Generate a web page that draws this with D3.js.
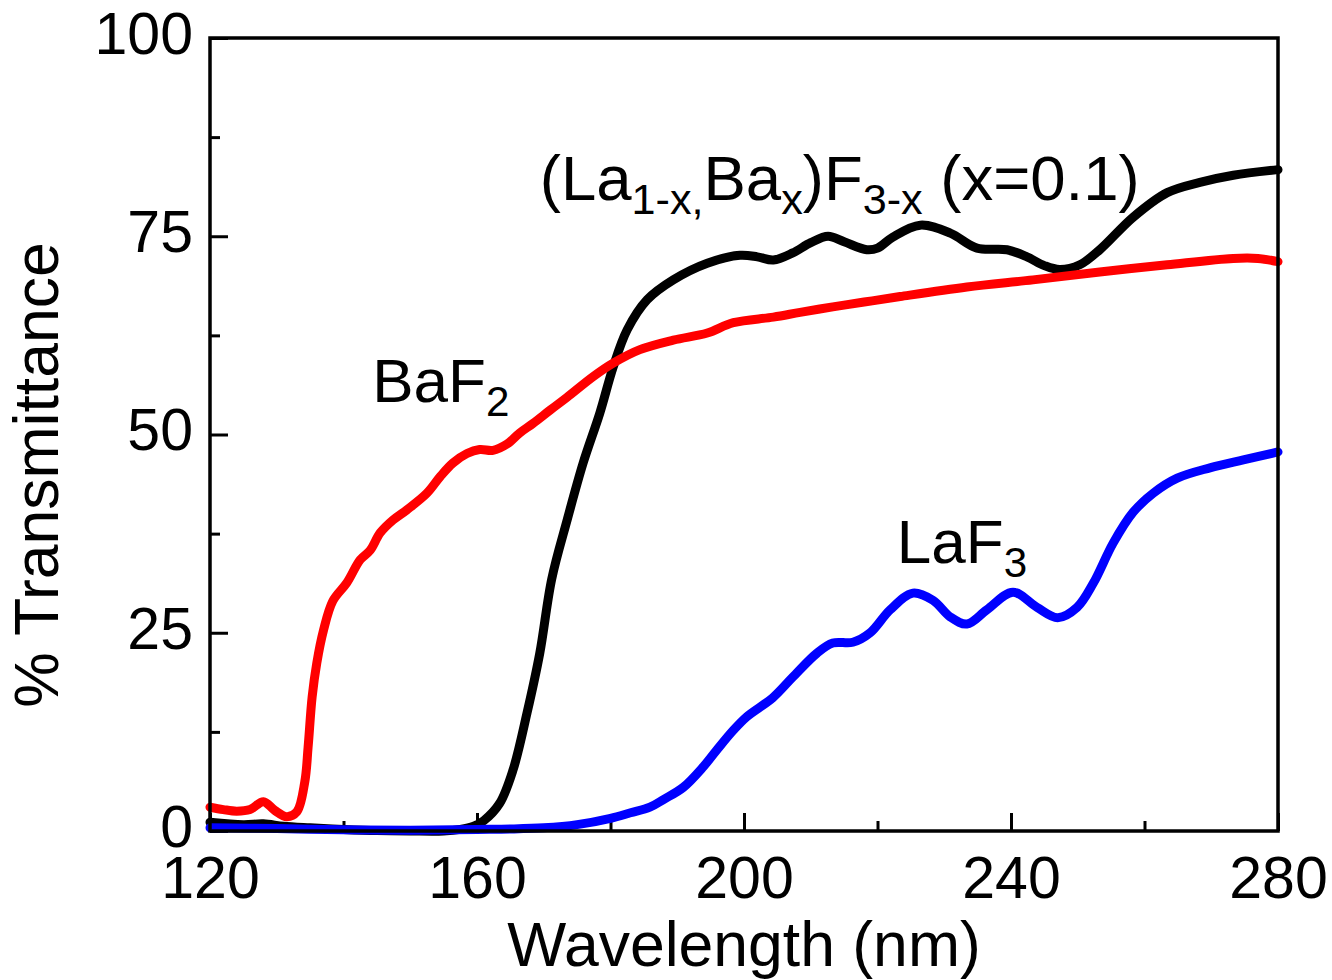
<!DOCTYPE html>
<html lang="en">
<head>
    <meta charset="UTF-8">
    <title>Transmittance</title>
    <style type="text/css">
        body { margin: 0; background: #fff; }
        svg text { font-family: "Liberation Sans", Arial, sans-serif; fill: #000; }
        .curve { fill: none; stroke-width: 9; stroke-linejoin: round; stroke-linecap: round; }
        .tick line { stroke: #000; stroke-width: 3; }
        .tick text { font-size: 59px; }
    </style>
</head>
<body>
    <svg></svg>

    <script src="https://d3js.org/d3.v7.min.js"></script>
    <script>
        // values (wavelength nm, % transmittance)
        var baf2Wl = [120, 122, 124, 126, 128, 129.7, 131.5, 133, 134.2, 134.7, 135.3, 136, 137, 138.4, 140.5, 142.5, 144, 145.5, 147.4, 149.5, 152.5, 154.5, 156.4, 158.5, 160.4, 162.4, 164.5, 166.4, 168.4, 171, 173.5, 177.4, 180.4, 184.4, 189.4, 194.5, 198.4, 204.4, 208.4, 213.3, 218, 223.4, 233.4, 243.3, 253.3, 263.4, 273.3, 277, 280];
        var baf2T  = [3.0, 2.7, 2.5, 2.7, 3.7, 2.6, 1.8, 2.4, 6.2, 10.6, 16.9, 21.2, 25.3, 29, 31.3, 34.2, 35.4, 37.6, 39.2, 40.5, 42.6, 44.7, 46.4, 47.6, 48.1, 48.0, 48.8, 50.2, 51.4, 53.1, 54.7, 57.3, 59.0, 60.7, 61.9, 62.8, 64.1, 64.8, 65.4, 66.1, 66.7, 67.4, 68.6, 69.5, 70.5, 71.4, 72.2, 72.2, 71.8];

        var mixWl = [120, 125, 128, 131, 135, 140, 145, 150, 155, 157.5, 159.5, 161, 163.4, 165.4, 167.5, 169.4, 171.2, 173.5, 175.9, 178.4, 180.4, 182.5, 185.5, 189.4, 194.5, 199.4, 202, 204.4, 207.3, 210, 212.6, 215, 218.4, 220, 222.3, 226.4, 230.9, 234.9, 239.4, 242.4, 245, 247.3, 250.3, 253.3, 258.3, 263.4, 268.3, 273.3, 280];
        var mixT  = [1.1, 0.8, 0.9, 0.6, 0.4, 0.2, 0.05, 0, 0, 0.2, 0.6, 1.3, 3.5, 7.7, 14.9, 22.4, 31.8, 39.2, 46.4, 52.7, 58.5, 63.2, 67, 69.5, 71.6, 72.6, 72.4, 72.0, 72.9, 74.2, 75.0, 74.3, 73.3, 73.5, 74.9, 76.4, 75.4, 73.5, 73.3, 72.4, 71.3, 70.8, 71.4, 73.3, 77.4, 80.5, 81.8, 82.7, 83.4];

        var laf3Wl = [120, 130, 140, 150, 160, 165, 170, 175, 180, 183, 185.9, 188, 190.9, 193.9, 196, 198.4, 200.4, 204.3, 207.3, 210.9, 213.3, 216.3, 218.9, 221.9, 225.3, 228.3, 230.9, 233.4, 236.4, 240.3, 243.9, 247, 249.9, 252.3, 255.3, 258.3, 261.3, 264.9, 269.8, 274.8, 280];
        var laf3T  = [0.4, 0.3, 0.15, 0.1, 0.2, 0.25, 0.4, 0.8, 1.6, 2.3, 3.0, 4.0, 5.5, 8.1, 10.3, 12.7, 14.4, 16.8, 19.4, 22.4, 23.7, 23.8, 25, 27.9, 30, 29.1, 27, 26.1, 27.9, 30.1, 28.2, 26.9, 28.2, 31.2, 36.3, 40.2, 42.6, 44.5, 45.8, 46.8, 47.8];

        var xMajor = [120, 160, 200, 240, 280];
        var xMinor = [140, 180, 220, 260];
        var yMajor = [0, 25, 50, 75, 100];
        var yMinor = [12.5, 37.5, 62.5, 87.5];

        var svgWidth = 1332
        var svgHeight = 980
        var margin = {left: 210, right: 54, top: 38, bottom: 149}

        var svg = d3.select('svg')
            .attr("width", svgWidth)
            .attr("height", svgHeight)

        var x = d3.scaleLinear().domain([120, 280]).range([margin.left, svgWidth - margin.right])
        var y = d3.scaleLinear().domain([0, 100]).range([svgHeight - margin.bottom, margin.top])

        // ticks point inward, majors longer than minors
        svg.append("g")
            .attr("transform", "translate(0," + y(0) + ")")
            .call(d3.axisBottom(x).tickValues(xMajor).tickSize(-18).tickPadding(25).tickFormat(d3.format("d")))
            .call(g => g.select(".domain").remove())
        svg.append("g")
            .attr("transform", "translate(0," + y(0) + ")")
            .call(d3.axisBottom(x).tickValues(xMinor).tickSize(-10).tickFormat(""))
            .call(g => g.select(".domain").remove())
        svg.append("g")
            .attr("class", "yaxis")
            .attr("transform", "translate(" + x(120) + ",0)")
            .call(d3.axisLeft(y).tickValues(yMajor).tickSize(-18).tickPadding(17).tickFormat(d3.format("d")))
            .call(g => g.select(".domain").remove())
        svg.append("g")
            .attr("transform", "translate(" + x(120) + ",0)")
            .call(d3.axisLeft(y).tickValues(yMinor).tickSize(-10).tickFormat(""))
            .call(g => g.select(".domain").remove())

        svg.selectAll(".tick text").attr("font-family", null)
        svg.selectAll(".yaxis .tick text").attr("dy", "0.26em")

        var line = d3.line()
            .x(function(d){ return x(d[0]) })
            .y(function(d){ return y(d[1]) })
            .curve(d3.curveCatmullRom.alpha(0.5))

        var series = [
            {wl: mixWl, t: mixT, color: "#000000"},
            {wl: baf2Wl, t: baf2T, color: "#ff0000"},
            {wl: laf3Wl, t: laf3T, color: "#0000ff"}
        ]

        series.forEach(function(s){
            svg.append("path")
                .datum(d3.zip(s.wl, s.t))
                .attr("class", "curve")
                .attr("stroke", s.color)
                .attr("d", line)
        })

        // frame
        svg.append("rect")
            .attr("x", x(120))
            .attr("y", y(100))
            .attr("width", x(280) - x(120))
            .attr("height", y(0) - y(100))
            .attr("fill", "none")
            .attr("stroke", "#000")
            .attr("stroke-width", 3.5)

        // axis titles
        svg.append("text")
            .attr("x", x(200))
            .attr("y", 966)
            .attr("text-anchor", "middle")
            .attr("font-size", 62.5)
            .text("Wavelength (nm)")
        svg.append("text")
            .attr("transform", "translate(58,475) rotate(-90)")
            .attr("text-anchor", "middle")
            .attr("font-size", 62.5)
            .text("% Transmittance")

        // curve labels: [text, is subscript]
        function label(parts, wl, t, size) {
            var txt = svg.append("text")
                .attr("x", x(wl))
                .attr("y", y(t))
                .attr("font-size", size)
            var low = false
            parts.forEach(function(p){
                var sp = txt.append("tspan").text(p[0])
                if (p[1] && !low) { sp.attr("dy", 14).attr("font-size", size * 0.68); low = true }
                else if (p[1]) { sp.attr("font-size", size * 0.68) }
                else if (low) { sp.attr("dy", -14); low = false }
            })
        }

        label([["BaF", false], ["2", true]], 144.3, 54.1, 62)
        label([["LaF", false], ["3", true]], 222.9, 33.8, 62)
        label([["(La", false], ["1-x,", true], ["Ba", false], ["x", true], [")F", false], ["3-x", true], [" (x=0.1)", false]], 169.4, 79.6, 63.5)
    </script>
</body>
</html>
